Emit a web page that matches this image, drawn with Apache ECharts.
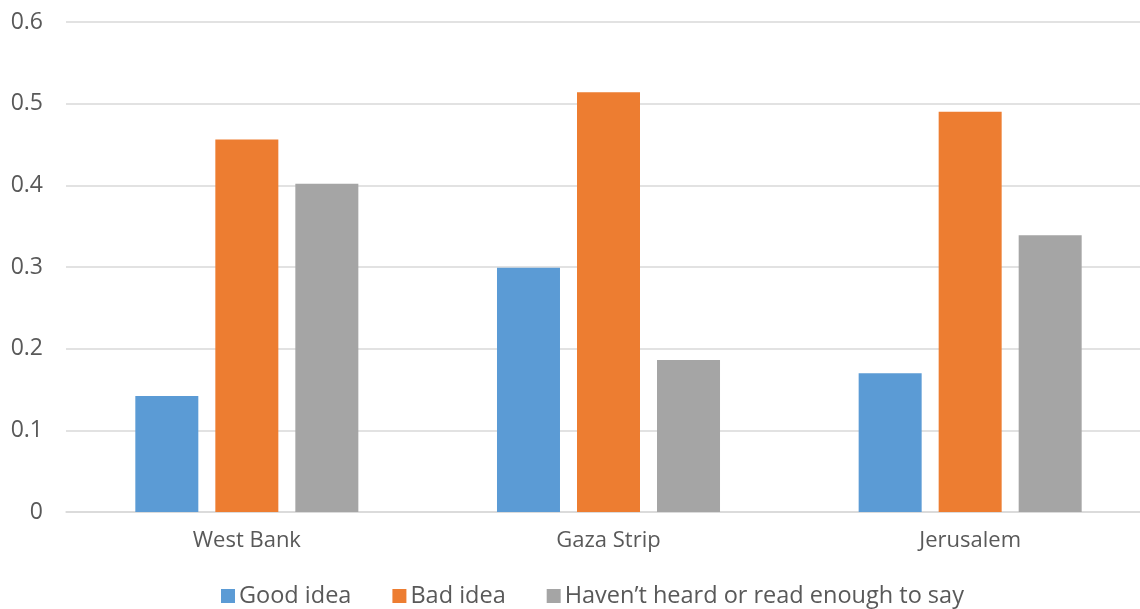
<!DOCTYPE html>
<html><head><meta charset="utf-8">
<script src="https://cdn.jsdelivr.net/npm/echarts@6/dist/echarts.min.js"></script>
<style>html,body{margin:0;padding:0;background:#fff}#c{width:1140px;height:609px}</style>
</head><body><div id="c"></div>
<script>
const categories = ["West Bank", "Gaza Strip", "Jerusalem"];
const goodIdea = [0.142, 0.299, 0.170];
const badIdea = [0.456, 0.514, 0.490];
const notEnough = [0.402, 0.186, 0.339];
const seriesNames = ["Good idea", "Bad idea", "Haven\u2019t heard or read enough to say"];
const colors = ["#5B9BD5", "#ED7D31", "#A5A5A5"];
const font = "'Open Sans', Lato, sans-serif";
const chart = echarts.init(document.getElementById('c'), null, {renderer: 'canvas'});
const mk = (name, data, color) => ({
  name, type: 'bar', data, barWidth: 63, barGap: '27%',
  itemStyle: {color}, animation: false
});
chart.setOption({
  animation: false,
  textStyle: {fontFamily: font},
  grid: {left: 66, width: 1085, top: 22, bottom: 97, containLabel: false, outerBoundsMode: 'none'},
  legend: {
    top: 579, left: 216, itemWidth: 14, itemHeight: 14, itemGap: 41,
    icon: 'rect',
    textStyle: {fontSize: 23.5, color: '#595959', fontFamily: font, padding: [0, 0, 0, -1]},
    data: seriesNames
  },
  xAxis: {
    type: 'category', data: categories,
    axisLine: {lineStyle: {color: '#D9D9D9', width: 1.5}},
    axisTick: {show: false},
    axisLabel: {fontSize: 22, color: '#595959', margin: 18, fontFamily: font}
  },
  yAxis: {
    type: 'value', min: 0, max: 0.6, interval: 0.1,
    axisLine: {show: false}, axisTick: {show: false},
    splitLine: {lineStyle: {color: '#D9D9D9', width: 1.5}},
    axisLabel: {fontSize: 23, color: '#595959', margin: 23, fontFamily: font,
      formatter: v => v === 0 ? '0' : v.toFixed(1)}
  },
  series: [mk(seriesNames[0], goodIdea, colors[0]), mk(seriesNames[1], badIdea, colors[1]), mk(seriesNames[2], notEnough, colors[2])]
});
</script></body></html>
